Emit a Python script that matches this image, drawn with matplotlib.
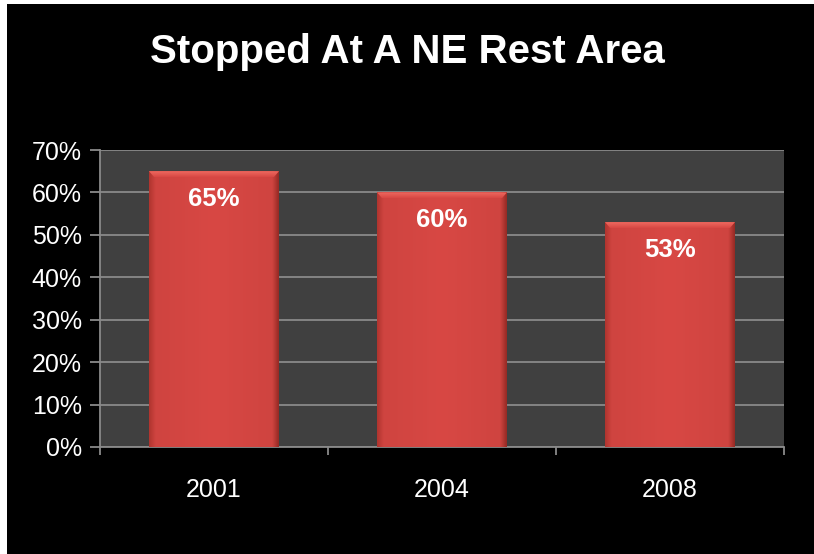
import matplotlib
matplotlib.use("Agg")
import matplotlib.pyplot as plt
import numpy as np
from matplotlib.patches import Rectangle, Polygon
from matplotlib.colors import LinearSegmentedColormap

categories = ["2001", "2004", "2008"]
values = [65, 60, 53]
value_labels = ["65%", "60%", "53%"]
y_ticks = [0, 10, 20, 30, 40, 50, 60, 70]
y_tick_labels = ["0%", "10%", "20%", "30%", "40%", "50%", "60%", "70%"]
title = "Stopped At A NE Rest Area"

plt.rcParams['font.family'] = ['Liberation Sans', 'DejaVu Sans']

W, H = 814, 554
fig = plt.figure(figsize=(W / 100, H / 100), dpi=100, facecolor='white')
# black slide background
fig.patches.append(Rectangle((7 / W, 0), 1 - 7 / W, 1 - 4 / H, transform=fig.transFigure,
                             facecolor='black', edgecolor='none', zorder=-10))

ax_left, ax_right = 100 / W, 784 / W
ax_top, ax_bottom = 1 - 150 / H, 1 - 447 / H
ax = fig.add_axes([ax_left, ax_bottom, ax_right - ax_left, ax_top - ax_bottom])
ax.set_facecolor('#404040')

x = np.arange(len(categories))
bars = ax.bar(x, values, width=0.57, color='#d44540', edgecolor='none', zorder=3)

# subtle horizontal shading, darker only near the edges
cmap = LinearSegmentedColormap.from_list(
    'barh', [(0.0, '#b0352f'), (0.05, '#cf4440'), (0.5, '#d84844'),
             (0.95, '#cf4440'), (1.0, '#962a24')])
grad = np.linspace(0, 1, 256).reshape(1, -1)
top_cmap = LinearSegmentedColormap.from_list('bev', ['#d84844', '#ee6a60'])
vgrad = np.linspace(0, 1, 64).reshape(-1, 1)
for b in bars:
    x0, w, h = b.get_x(), b.get_width(), b.get_height()
    im = ax.imshow(grad, extent=[x0, x0 + w, 0, h], aspect='auto', cmap=cmap, zorder=4,
                   interpolation='bilinear')
    im.set_clip_path(b)
    # lighter top bevel with slanted lower corners
    bev_h = 1.4
    inset = w * 0.04
    bev = Polygon([(x0, h), (x0 + w, h), (x0 + w - inset, h - bev_h), (x0 + inset, h - bev_h)],
                  closed=True, facecolor='none', edgecolor='none')
    ax.add_patch(bev)
    im2 = ax.imshow(vgrad, extent=[x0, x0 + w, h - bev_h, h], origin='lower', aspect='auto',
                    cmap=top_cmap, zorder=5, interpolation='bilinear')
    im2.set_clip_path(bev)

for xi, v, lab in zip(x, values, value_labels):
    ax.text(xi, v - 6.6, lab, ha='center', va='center', color='white', fontsize=18.5,
            fontweight='bold', zorder=7)

ax.set_xlim(-0.5, len(categories) - 0.5)
ax.set_ylim(0, 70)
ax.set_yticks(y_ticks)
ax.set_yticklabels(y_tick_labels)
ax.grid(axis='y', color='#8a8a8a', lw=1.3, zorder=1)
ax.set_axisbelow(True)

ax.set_xticks(x)
ax.set_xticklabels(categories)
ax.set_xticks(np.arange(len(categories) + 1) - 0.5, minor=True)
ax.tick_params(axis='x', which='major', length=0, pad=22, labelsize=18, colors='white')
ax.tick_params(axis='x', which='minor', length=6, width=1.3, color='#8a8a8a', direction='out')
ax.tick_params(axis='y', length=7, width=1.3, color='#8a8a8a', labelsize=18, labelcolor='white', pad=6)

for s in ['top', 'right']:
    ax.spines[s].set_visible(False)
for s in ['left', 'bottom']:
    ax.spines[s].set_color('#8a8a8a')
    ax.spines[s].set_linewidth(1.3)

fig.text(0.5, 1 - 52 / H, title, ha='center', va='center', color='white', fontsize=29,
         fontweight='bold')

fig.savefig('out.png', dpi=100, facecolor=fig.get_facecolor())
